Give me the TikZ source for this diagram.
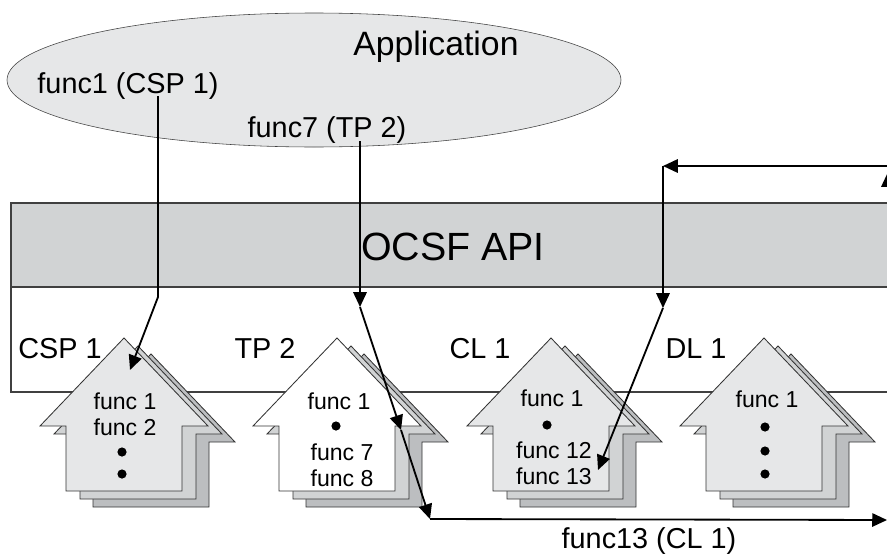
\documentclass[tikz,border=0pt]{standalone}
\usepackage{fontspec}
\setmainfont{Liberation Sans}
\usetikzlibrary{arrows.meta}
\definecolor{appgray}{HTML}{E6E7E8}
\definecolor{apigray}{HTML}{D1D3D4}
\definecolor{midgray}{HTML}{D1D3D4}
\definecolor{backgray}{HTML}{BCBEC0}
\begin{document}
\begin{tikzpicture}[x=0.025cm, y=0.025cm]
	\tikzstyle{every node}+=[inner sep=0pt]
	\tikzstyle{bigtext}=[anchor=base, font=\fontsize{20.5}{24}\selectfont]
	\tikzstyle{housetext}=[anchor=north, align=center, font=\fontsize{16.4}{18}\selectfont]
	\tikzstyle{call}=[-{Triangle[length=10.5pt,width=9.5pt]}, line width=1.3pt]
	\useasboundingbox (0,0) rectangle (887,-559);
	\clip (0,0) rectangle (887,-559);
	% application
	\draw [black!75, fill=appgray] (314,-80) ellipse (307 and 67);
	\node [anchor=base, font=\fontsize{24}{28}\selectfont] (app) at (436,-55) {Application};
	\node [bigtext] (f1) at (128,-93) {func1 (CSP 1)};
	\node [bigtext] (f7) at (327,-137) {func7 (TP 2)};
	% api band and module box
	\fill [apigray] (11,-203) rectangle (900,-287);
	\draw [black!75, line width=0.9pt] (900,-203) -- (11,-203) -- (11,-392) -- (900,-392);
	\draw [black!75, line width=0.9pt] (11,-287) -- (900,-287);
	\node [anchor=base, font=\fontsize{28}{32}\selectfont] (api) at (453,-260) {OCSF API};
	\node [bigtext] (csp) at (60,-358) {CSP 1};
	\node [bigtext] (tp) at (265,-358) {TP 2};
	\node [bigtext] (cl) at (480,-358) {CL 1};
	\node [bigtext] (dl) at (696,-358) {DL 1};
	% modules
	\foreach \ax/\fc in {124/appgray, 337/white, 551/appgray, 764/appgray}
		\foreach \dx/\dy/\hc in {27/16/backgray, 14/8/midgray, 0/0/\fc}
			\draw [black!80, line width=0.6pt, fill=\hc] (\ax+\dx,-338-\dy) -- ++(84,-88) -- ++(-26,0) -- ++(0,-65) -- ++(-116,0) -- ++(0,65) -- ++(-26,0) -- cycle;
	\node [housetext] (csp funcs) at (125,-393) {func 1\\func 2};
	\node [housetext] (tp top) at (339,-393) {func 1};
	\node [housetext] (tp funcs) at (342,-444) {func 7\\func 8};
	\node [housetext] (cl top) at (552,-390) {func 1};
	\node [housetext] (cl funcs) at (554,-442) {func 12\\func 13};
	\node [housetext] (dl top) at (767,-391) {func 1};
	\foreach \dx/\dy in {122/452, 122/474, 336/426, 547/425, 765/427, 765/451, 765/474}
		\fill (\dx,-\dy) circle (4.6);
	% calls
	\coordinate (f1 out) at (158,-96);
	\coordinate (f1 bend) at (158,-297);
	\coordinate (csp in) at (130,-370);
	\draw [call] (f1 out) -- (f1 bend) -- (csp in);
	\coordinate (f7 out) at (360,-141);
	\coordinate (tp api) at (360,-307);
	\coordinate (tp in) at (401,-430);
	\coordinate (tp low) at (430,-519);
	\coordinate (out right) at (887,-520);
	\draw [call] (f7 out) -- (tp api);
	\draw [call] (tp api) -- (tp in);
	\draw [call] (tp in) -- (tp low);
	\draw [call] (tp low) -- (out right);
	\coordinate (in low) at (888,-240);
	\coordinate (in right) at (888,-172);
	\coordinate (top right) at (887,-166);
	\coordinate (cl top) at (663,-166);
	\coordinate (cl api) at (663,-308);
	\coordinate (cl in) at (598,-470);
	\draw [call] (in low) -- (in right);
	\draw [call] (top right) -- (cl top);
	\draw [call] (cl top) -- (cl api);
	\draw [call] (cl api) -- (cl in);
	\node [bigtext] (f13) at (649,-548) {func13 (CL 1)};
\end{tikzpicture}
\end{document}
